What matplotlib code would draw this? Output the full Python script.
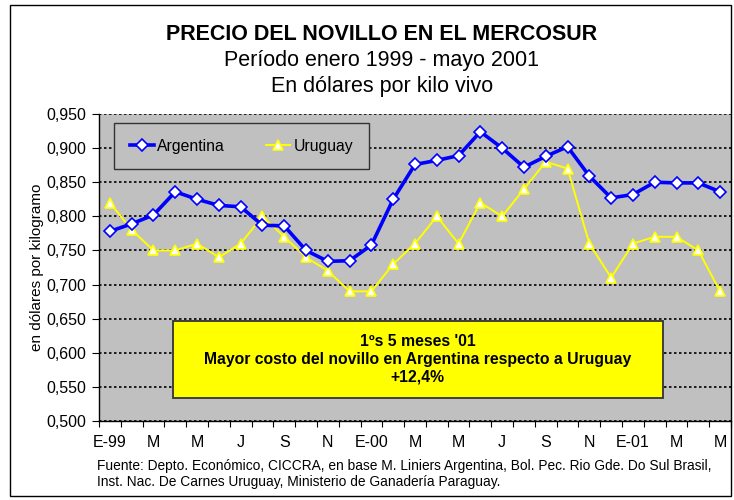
import numpy as np
import matplotlib
matplotlib.use("Agg")
import matplotlib.pyplot as plt
from matplotlib.patches import Rectangle
from matplotlib.ticker import FuncFormatter

plt.rcParams['font.family'] = ['Liberation Sans', 'DejaVu Sans']

# monthly series, enero 1999 - mayo 2001
argentina = [0.778, 0.789, 0.802, 0.836, 0.825, 0.816, 0.814, 0.787, 0.786, 0.750,
             0.734, 0.735, 0.758, 0.825, 0.876, 0.882, 0.889, 0.924, 0.900, 0.872,
             0.888, 0.902, 0.859, 0.827, 0.832, 0.850, 0.849, 0.849, 0.836]
uruguay = [0.820, 0.780, 0.750, 0.750, 0.760, 0.740, 0.760, 0.800, 0.770, 0.740,
           0.720, 0.690, 0.690, 0.730, 0.760, 0.800, 0.760, 0.820, 0.800, 0.840,
           0.880, 0.870, 0.760, 0.710, 0.760, 0.770, 0.770, 0.750, 0.690]
month_labels = ['E-99', 'M', 'M', 'J', 'S', 'N', 'E-00', 'M', 'M', 'J', 'S', 'N',
                'E-01', 'M', 'M']

x = np.arange(len(argentina))

fig = plt.figure(figsize=(7.34, 5.0), dpi=100)
ax = fig.add_axes([99/734, 1 - 421/500, 632/734, 307/500])
ax.set_facecolor('#c0c0c0')

ax.plot(x, argentina, color='#0000ff', lw=2.6, marker='D', ms=6.5,
        mfc='white', mec='#0000ff', mew=1.2, label='Argentina', zorder=4)
ax.plot(x, uruguay, color='#ffff00', lw=1.4, marker='^', ms=7,
        mfc='white', mec='#ffff00', mew=1.2, label='Uruguay', zorder=3)

ax.set_xlim(-0.5, len(x) - 0.5)
ax.set_ylim(0.5, 0.95)
ax.set_yticks(np.arange(0.5, 0.951, 0.05))
ax.yaxis.set_major_formatter(FuncFormatter(lambda v, p: ('%.3f' % v).replace('.', ',')))
ax.set_xticks(x[::2])
ax.set_xticklabels(month_labels)
ax.set_xticks(np.arange(-0.5, len(x), 1), minor=True)
ax.tick_params(axis='x', which='major', length=0, pad=10, labelsize=11.5)
ax.tick_params(axis='x', which='minor', length=4, direction='out', width=0.8)
ax.tick_params(axis='y', length=5, direction='out', width=0.8, labelsize=11.5, pad=4)

ax.yaxis.grid(True, color='black', linestyle=(0, (1.5, 1.5)), lw=1.2)
ax.set_axisbelow(True)
for s in ['top', 'right']:
    ax.spines[s].set_visible(False)
ax.spines['left'].set_linewidth(1)
ax.spines['bottom'].set_linewidth(1)

ax.set_ylabel('en dólares por kilogramo', fontsize=11, labelpad=2)

leg = ax.legend(loc='upper left', ncol=2, bbox_to_anchor=(0.024, 0.971),
                fontsize=11.3, fancybox=False, framealpha=1,
                facecolor='#c0c0c0', edgecolor='#333333', handlelength=1.55,
                handletextpad=0.2, columnspacing=2.6, borderaxespad=0, borderpad=1.0)
leg.get_frame().set_linewidth(1)

# yellow note box
ax.add_patch(Rectangle((0.117, 0.075), 0.775, 0.251, transform=ax.transAxes,
                       facecolor='#ffff00', edgecolor='#333333', lw=1.3, zorder=5))
ax.text(0.117 + 0.775/2, 0.075 + 0.251/2,
        "1ºs 5 meses '01\nMayor costo del novillo en Argentina respecto a Uruguay\n+12,4%",
        transform=ax.transAxes, ha='center', va='center', fontsize=11.3,
        fontweight='bold', linespacing=1.22, zorder=6)

fig.text(0.52, 0.932, 'PRECIO DEL NOVILLO EN EL MERCOSUR', ha='center', va='center',
         fontsize=15.5, fontweight='bold')
fig.text(0.52, 0.879, 'Período enero 1999 - mayo 2001', ha='center', va='center', fontsize=15.5)
fig.text(0.52, 0.827, 'En dólares por kilo vivo', ha='center', va='center', fontsize=15.5)

fig.text(97/734, 1 - 474/500,
         'Fuente: Depto. Económico, CICCRA, en base M. Liniers Argentina, Bol. Pec. Rio Gde. Do Sul Brasil,\n'
         'Inst. Nac. De Carnes Uruguay, Ministerio de Ganadería Paraguay.',
         ha='left', va='center', fontsize=9.9, linespacing=1.2)

# outer frame
fig.patches.append(Rectangle((10/734, 1 - 496/500), 721/734, 491/500,
                             transform=fig.transFigure, fill=False,
                             edgecolor='black', lw=1))

fig.savefig('out.png', dpi=100)
